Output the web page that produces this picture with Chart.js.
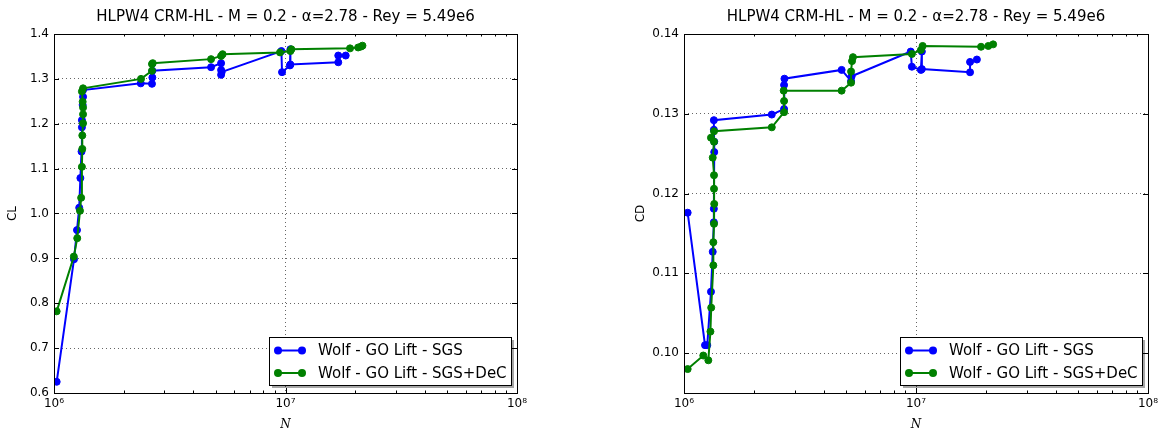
<!DOCTYPE html>
<html>
<head>
<meta charset="utf-8">
<script src="https://cdn.jsdelivr.net/npm/chart.js@4"></script>
<style>
  html, body { margin: 0; padding: 0; background: #fff; overflow: hidden; }
  canvas { position: absolute; top: 0; }
  #chartCL { left: 0; }
  #chartCD { left: 582px; }
</style>
</head>
<body>
<canvas id="chartCL" width="582" height="436"></canvas>
<canvas id="chartCD" width="582" height="436"></canvas>
<script>
'use strict';

const chartTitle = 'HLPW4 CRM-HL - M = 0.2 - α=2.78 - Rey = 5.49e6';
const seriesLabels = ['Wolf - GO Lift - SGS', 'Wolf - GO Lift - SGS+DeC'];
const seriesColors = ['#0000ff', '#008000'];

// x axis (log): decades + minor mantissas
const xMajorTicks = [1e6, 1e7, 1e8];
const xTickLabels = ['10⁶', '10⁷', '10⁸'];
const xMinorMantissas = [2, 3, 4, 5, 6, 7, 8, 9];

const clTicks = [0.6, 0.7, 0.8, 0.9, 1.0, 1.1, 1.2, 1.3, 1.4];
const cdTicks = [0.10, 0.11, 0.12, 0.13, 0.14];

// CL - SGS
const sgsN_CL = [1.027e6, 1.22e6, 1.257e6, 1.285e6, 1.30e6, 1.315e6, 1.32e6, 1.32e6, 1.33e6, 1.335e6,
  1.335e6, 2.37e6, 2.65e6, 2.66e6, 2.66e6, 4.77e6, 5.27e6, 5.27e6, 5.27e6, 5.30e6,
  9.6e6, 9.66e6, 1.045e7, 1.05e7, 1.05e7, 1.69e7, 1.69e7, 1.82e7];
const sgsCL = [0.625, 0.898, 0.963, 1.013, 1.079, 1.138, 1.192, 1.208, 1.242, 1.260,
  1.275, 1.290, 1.289, 1.303, 1.318, 1.326, 1.335, 1.320, 1.309, 1.315,
  1.362, 1.315, 1.330, 1.366, 1.332, 1.337, 1.352, 1.352];

// CL - SGS+DeC
const decN_CL = [1.027e6, 1.218e6, 1.26e6, 1.295e6, 1.31e6, 1.32e6, 1.325e6, 1.325e6, 1.335e6, 1.335e6,
  1.335e6, 1.33e6, 1.32e6, 1.335e6, 2.376e6, 2.65e6, 2.65e6, 2.67e6, 4.77e6, 5.27e6,
  5.35e6, 9.47e6, 1.05e7, 1.06e7, 1.90e7, 2.06e7, 2.12e7, 2.15e7];
const decCL = [0.782, 0.904, 0.945, 1.006, 1.035, 1.104, 1.144, 1.174, 1.201, 1.221,
  1.236, 1.249, 1.272, 1.279, 1.300, 1.318, 1.333, 1.335, 1.344, 1.351,
  1.355, 1.359, 1.362, 1.366, 1.368, 1.370, 1.372, 1.374];

// CD - SGS
const sgsN_CD = [1.037e6, 1.232e6, 1.26e6, 1.307e6, 1.33e6, 1.345e6, 1.345e6, 1.35e6, 1.35e6, 1.345e6,
  1.345e6, 2.39e6, 2.70e6, 2.70e6, 2.71e6, 4.78e6, 5.25e6, 5.28e6, 9.49e6, 9.6e6,
  1.05e7, 1.06e7, 1.06e7, 1.71e7, 1.71e7, 1.83e7];
const sgsCD = [0.1176, 0.1010, 0.1010, 0.1077, 0.1127, 0.1164, 0.1181, 0.1252, 0.1265, 0.1280,
  0.1292, 0.1299, 0.1306, 0.1336, 0.1344, 0.1355, 0.1341, 0.1347, 0.1378, 0.1359,
  0.1355, 0.1378, 0.1356, 0.1352, 0.1365, 0.1368];

// CD - SGS+DeC
const decN_CD = [1.037e6, 1.211e6, 1.273e6, 1.30e6, 1.31e6, 1.338e6, 1.338e6, 1.347e6, 1.35e6, 1.347e6,
  1.347e6, 1.33e6, 1.347e6, 1.307e6, 1.347e6, 2.39e6, 2.70e6, 2.70e6, 2.69e6, 4.78e6,
  5.25e6, 5.25e6, 5.3e6, 5.35e6, 9.6e6, 1.05e7, 1.068e7, 1.907e7, 2.05e7, 2.15e7];
const decCD = [0.0980, 0.0997, 0.0991, 0.1027, 0.1057, 0.1110, 0.1139, 0.1162, 0.1187, 0.1206,
  0.1223, 0.1245, 0.1265, 0.1270, 0.1278, 0.1283, 0.1302, 0.1316, 0.1329, 0.1329,
  0.1339, 0.1353, 0.1366, 0.1371, 0.1375, 0.1380, 0.1385, 0.1384, 0.1385, 0.1387];

Chart.defaults.font.family = '"DejaVu Sans", sans-serif';
Chart.defaults.color = '#000';

const xTickValues = [];
xMajorTicks.forEach(function(m, i) {
  xTickValues.push(m);
  if (i < xMajorTicks.length - 1) {
    xMinorMantissas.forEach(function(k) { xTickValues.push(k * m); });
  }
});

function toPoints(xs, ys) {
  return xs.map(function(x, i) { return {x: x, y: ys[i]}; });
}

function line(ctx, x1, y1, x2, y2) {
  ctx.beginPath();
  ctx.moveTo(x1, y1);
  ctx.lineTo(x2, y2);
  ctx.stroke();
}

// frame, inward tick marks, title and legend box like matplotlib
const plotDeco = {
  id: 'plotDeco',
  afterDatasetsDraw: function(chart) {
    const ctx = chart.ctx, a = chart.chartArea;
    const xs = chart.scales.x, ys = chart.scales.y;
    ctx.save();
    ctx.strokeStyle = '#000';
    ctx.lineWidth = 1;
    xs.ticks.forEach(function(t) {
      const px = Math.round(xs.getPixelForValue(t.value)) + 0.5;
      const len = xMajorTicks.includes(t.value) ? 5 : 2.5;
      line(ctx, px, a.bottom, px, a.bottom - len);
      line(ctx, px, a.top, px, a.top + len);
    });
    ys.ticks.forEach(function(t) {
      const py = Math.round(ys.getPixelForValue(t.value)) + 0.5;
      line(ctx, a.left, py, a.left + 5, py);
      line(ctx, a.right, py, a.right - 5, py);
    });
    ctx.strokeRect(Math.round(a.left) + 0.5, Math.round(a.top) + 0.5,
      Math.round(a.width), Math.round(a.height));
    ctx.restore();
  },
  afterDraw: function(chart, args, opts) {
    const ctx = chart.ctx, a = chart.chartArea;
    ctx.save();
    ctx.fillStyle = '#000';
    ctx.font = '15px "DejaVu Sans"';
    ctx.textAlign = 'center';
    ctx.textBaseline = 'alphabetic';
    ctx.fillText(opts.title, (a.left + a.right) / 2, 21);

    const w = 242, h = 48;
    const bx = Math.round(a.right - 6 - w), by = Math.round(a.bottom - 8 - h);
    ctx.fillStyle = 'rgba(0,0,0,0.35)';
    ctx.fillRect(bx + 3, by + 3, w, h);
    ctx.fillStyle = '#fff';
    ctx.fillRect(bx, by, w, h);
    ctx.strokeStyle = '#000';
    ctx.lineWidth = 1;
    ctx.strokeRect(bx + 0.5, by + 0.5, w, h);

    chart.data.datasets.forEach(function(ds, i) {
      const ry = by + 13.5 + i * 22.5;
      ctx.strokeStyle = ds.borderColor;
      ctx.fillStyle = ds.borderColor;
      ctx.lineWidth = 2;
      line(ctx, bx + 9, ry, bx + 33, ry);
      [bx + 9, bx + 33].forEach(function(cx) {
        ctx.beginPath();
        ctx.arc(cx, ry, 4, 0, Math.PI * 2);
        ctx.fill();
      });
      ctx.fillStyle = '#000';
      ctx.font = '15px "DejaVu Sans"';
      ctx.textAlign = 'left';
      ctx.textBaseline = 'middle';
      ctx.fillText(ds.label, bx + 49, ry + 1);
    });
    ctx.restore();
  }
};

function makeChart(id, cfg) {
  return new Chart(document.getElementById(id), {
    type: 'scatter',
    data: {
      datasets: [
        {
          label: seriesLabels[0],
          data: toPoints(cfg.sgsN, cfg.sgsY),
          borderColor: seriesColors[0],
          backgroundColor: seriesColors[0],
          order: 2
        },
        {
          label: seriesLabels[1],
          data: toPoints(cfg.decN, cfg.decY),
          borderColor: seriesColors[1],
          backgroundColor: seriesColors[1],
          order: 1
        }
      ]
    },
    options: {
      responsive: false,
      animation: false,
      showLine: true,
      elements: {
        line: { borderWidth: 2, tension: 0 },
        point: { radius: 3.5, borderWidth: 1, hoverRadius: 3.5 }
      },
      layout: { padding: { top: 34, left: cfg.padLeft, right: cfg.padRight, bottom: 0 } },
      plugins: {
        legend: { display: false },
        tooltip: { enabled: false },
        plotDeco: { title: chartTitle }
      },
      scales: {
        x: {
          type: 'logarithmic',
          min: 1e6,
          max: 1e8,
          afterBuildTicks: function(scale) {
            scale.ticks = xTickValues.map(function(v) { return {value: v}; });
          },
          afterFit: function(scale) { scale.height = 43; },
          ticks: {
            autoSkip: false,
            maxRotation: 0,
            padding: 4,
            font: { size: 12 },
            callback: function(v) {
              const i = xMajorTicks.indexOf(v);
              return i >= 0 ? xTickLabels[i] : '';
            }
          },
          grid: {
            drawTicks: false,
            lineWidth: 1,
            color: function(c) {
              return c.tick && xMajorTicks.includes(c.tick.value) ? 'rgba(0,0,0,0.6)' : 'rgba(0,0,0,0)';
            }
          },
          border: { display: false, dash: [1, 3] },
          title: {
            display: true,
            text: 'N',
            font: { family: '"DejaVu Serif"', style: 'italic', size: 12, lineHeight: 1.2 },
            padding: { top: 0, bottom: 4 }
          }
        },
        y: {
          type: 'linear',
          min: cfg.yMin,
          max: cfg.yMax,
          afterBuildTicks: function(scale) {
            scale.ticks = cfg.yTicks.map(function(v) { return {value: v}; });
          },
          afterFit: function(scale) { scale.width = cfg.yWidth; },
          ticks: {
            autoSkip: false,
            padding: 5,
            font: { size: 12 },
            callback: function(v) { return v.toFixed(cfg.digits); }
          },
          grid: { drawTicks: false, lineWidth: 1, color: 'rgba(0,0,0,0.6)' },
          border: { display: false, dash: [1, 3] },
          title: {
            display: true,
            text: cfg.yLabel,
            font: { size: 12, lineHeight: 1.2 },
            padding: { top: 6, bottom: 0 }
          }
        }
      }
    },
    plugins: [plotDeco]
  });
}

makeChart('chartCL', {
  sgsN: sgsN_CL, sgsY: sgsCL, decN: decN_CL, decY: decCL,
  yMin: 0.6, yMax: 1.4, yTicks: clTicks, digits: 1, yLabel: 'CL',
  padLeft: 0, yWidth: 54, padRight: 65
});

makeChart('chartCD', {
  sgsN: sgsN_CD, sgsY: sgsCD, decN: decN_CD, decY: decCD,
  yMin: 0.095, yMax: 0.14, yTicks: cdTicks, digits: 2, yLabel: 'CD',
  padLeft: 46, yWidth: 56, padRight: 16
});
</script>
</body>
</html>
